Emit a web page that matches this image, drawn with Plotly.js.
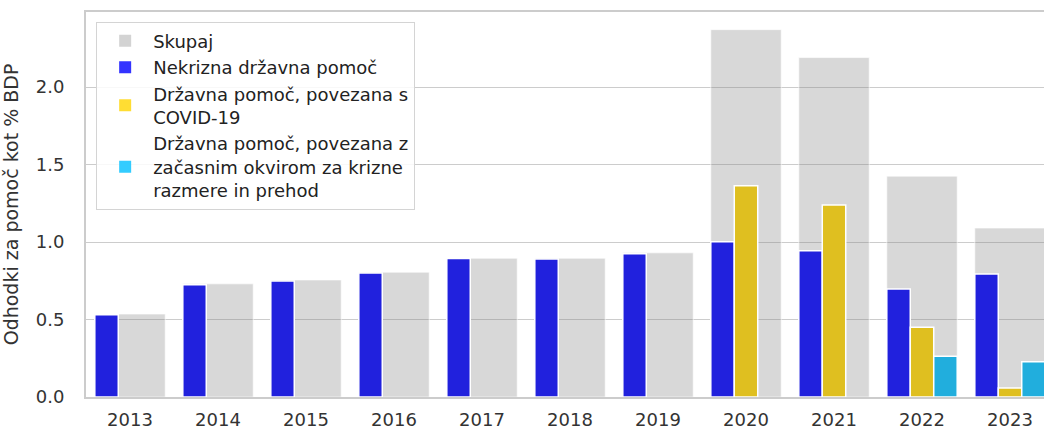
<!DOCTYPE html>
<html>
<head>
<meta charset="utf-8">
<script src="https://cdn.plot.ly/plotly-3.0.1.min.js"></script>
<style>
html,body{margin:0;padding:0;overflow:hidden;background:#fff;width:1044px;height:432px;}
#chart{width:1060px;height:432px;}
</style>
</head>
<body>
<div id="chart"></div>
<script>
const years = ['2013','2014','2015','2016','2017','2018','2019','2020','2021','2022','2023'];
const skupaj = [0.535, 0.73, 0.755, 0.805, 0.895, 0.895, 0.93, 2.37, 2.19, 1.425, 1.09];
const nekrizna = [0.53, 0.725, 0.748, 0.80, 0.893, 0.89, 0.925, 1.002, 0.944, 0.697, 0.794];
const covid = [null, null, null, null, null, null, null, 1.363, 1.239, 0.45, 0.058];
const kriza = [null, null, null, null, null, null, null, null, null, 0.263, 0.228];
const names = ['Skupaj', 'Nekrizna državna pomoč', 'Državna pomoč, povezana s<br>COVID-19', 'Državna pomoč, povezana z<br>začasnim okvirom za krizne<br>razmere in prehod'];
const barColors = ['rgba(128,128,128,0.31)', '#2121dd', '#dfbf20', '#21aedd'];
const legendColors = ['#d3d3d3', '#3333ff', '#ffdd33', '#33ccff'];

const w = 0.8, nw = 0.8/3;
const traces = [
  {type:'bar', x:years, y:skupaj, width:w, offset:-w/2, marker:{color:barColors[0], line:{color:'rgba(255,255,255,0.6)', width:1}}, showlegend:false, hoverinfo:'y'},
  {type:'bar', x:years, y:nekrizna, width:nw, offset:-w/2, marker:{color:barColors[1], line:{color:'#ffffff', width:1.5}}, showlegend:false},
  {type:'bar', x:years, y:covid, width:nw, offset:-w/2+nw, marker:{color:barColors[2], line:{color:'#ffffff', width:1.5}}, showlegend:false},
  {type:'bar', x:years, y:kriza, width:nw, offset:-w/2+2*nw, marker:{color:barColors[3], line:{color:'#ffffff', width:1.5}}, showlegend:false}
];
for (let i = 0; i < 4; i++) {
  traces.push({type:'bar', x:[years[0]], y:[null], name:names[i], marker:{color:legendColors[i]}, showlegend:true, hoverinfo:'skip'});
}

const layout = {
  width:1060, height:432,
  margin:{l:86, r:6, t:12, b:35},
  barmode:'overlay',
  paper_bgcolor:'#ffffff', plot_bgcolor:'#ffffff',
  font:{family:'DejaVu Sans, Verdana, sans-serif', size:18, color:'#333333'},
  showlegend:true,
  legend:{x:0.0105, y:0.975, xanchor:'left', yanchor:'top', bgcolor:'rgba(255,255,255,0.85)', bordercolor:'#d4d4d4', borderwidth:1, font:{size:18, color:'#222222'}, traceorder:'normal', tracegroupgap:0, itemwidth:46},
  xaxis:{type:'category', range:[-0.5, 10.5], showline:true, linecolor:'#cccccc', linewidth:2, mirror:true, showgrid:false, ticks:'', tickfont:{size:18, color:'#333333'}, ticklabelstandoff:5},
  yaxis:{range:[0, 2.484], dtick:0.5, tickformat:'.1f', showline:true, linecolor:'#cccccc', linewidth:2, mirror:true, showgrid:true, gridcolor:'#cccccc', gridwidth:1, zeroline:false, ticks:'', tickfont:{size:18, color:'#333333'}, ticklabelstandoff:16,
    title:{text:'Odhodki za pomoč kot % BDP', font:{size:19, color:'#333333'}, standoff:12}}
};
Plotly.newPlot('chart', traces, layout, {displayModeBar:false, staticPlot:true});
</script>
</body>
</html>
